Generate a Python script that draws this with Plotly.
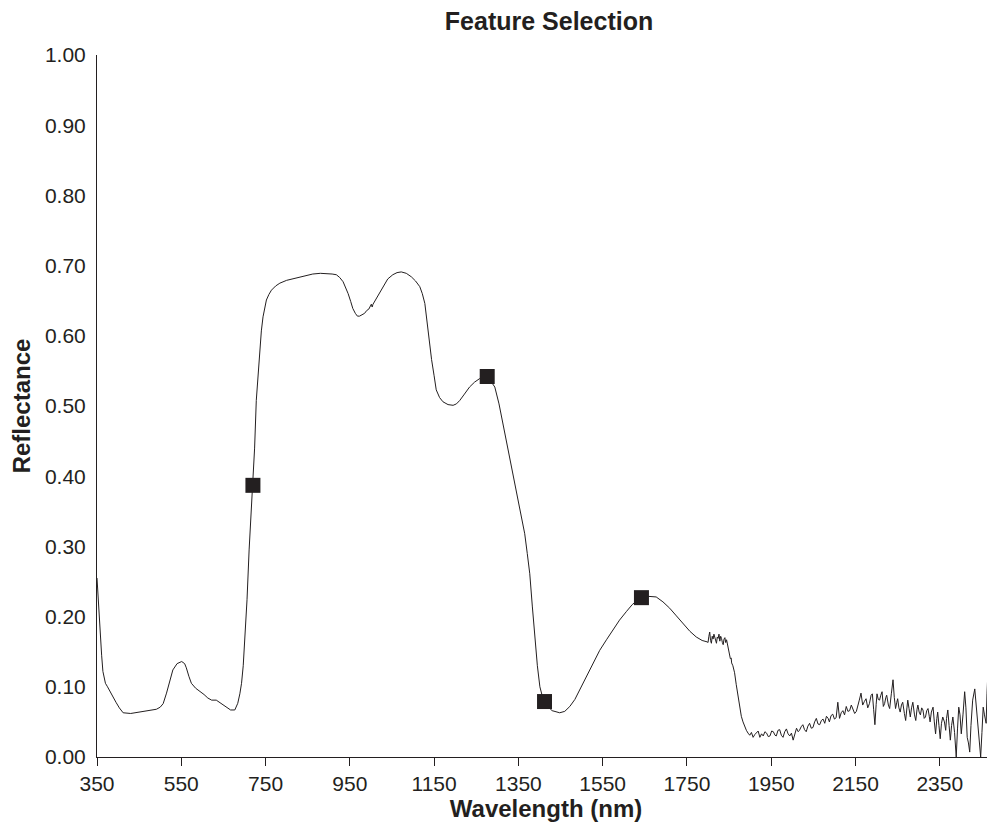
import plotly.graph_objects as go

# ---------------- data ----------------
wl_vis = [350, 352, 354, 356, 358, 361, 364, 367, 370, 375, 380, 388, 395, 403, 412, 430,
          450, 470, 491, 500, 507, 515, 522, 530, 540, 551, 558, 562, 568, 574, 584, 594,
          604, 613, 622, 633, 645, 657, 667, 677, 684, 689, 693, 697, 700, 703, 706, 711, 716]
r_vis = [0.255, 0.232, 0.207, 0.185, 0.168, 0.145, 0.122, 0.112, 0.105, 0.100, 0.094,
         0.086, 0.078, 0.070, 0.063, 0.062, 0.064, 0.066, 0.068, 0.071, 0.076, 0.091, 0.108,
         0.124, 0.133, 0.136, 0.133, 0.127, 0.115, 0.105, 0.098, 0.094, 0.089, 0.084, 0.081,
         0.081, 0.076, 0.070, 0.067, 0.067, 0.0765, 0.090, 0.105, 0.130, 0.160, 0.190, 0.224,
         0.295, 0.350]

wl_nir = [720, 724, 728, 732, 736, 740, 744, 748, 752, 758, 764, 774, 784, 800, 823, 840,
          862, 880, 894, 908, 918, 926, 934, 940, 946, 952, 957, 963, 968, 973, 980, 985,
          990, 995, 1001, 1003, 1005, 1015, 1028, 1040, 1052, 1062, 1072, 1084, 1096, 1106,
          1116, 1122, 1128, 1132, 1136, 1140, 1144, 1150, 1155, 1163, 1171, 1183, 1195,
          1203, 1211, 1222, 1234, 1246, 1258, 1268]
r_nir = [0.387, 0.440, 0.508, 0.545, 0.580, 0.607, 0.627, 0.641, 0.651, 0.659, 0.665, 0.671,
         0.675, 0.679, 0.682, 0.685, 0.688, 0.689, 0.689, 0.688, 0.687, 0.683, 0.677, 0.669,
         0.660, 0.649, 0.639, 0.632, 0.628, 0.628, 0.631, 0.632, 0.636, 0.638, 0.645, 0.641,
         0.645, 0.655, 0.670, 0.681, 0.687, 0.690, 0.691, 0.689, 0.684, 0.678, 0.670, 0.660,
         0.646, 0.625, 0.603, 0.583, 0.566, 0.543, 0.523, 0.512, 0.506, 0.502, 0.501, 0.503,
         0.508, 0.517, 0.527, 0.534, 0.539, 0.541]

wl_swir1 = [1276, 1285, 1294, 1304, 1313, 1321, 1329, 1339, 1349, 1357, 1365, 1371, 1377,
            1383, 1389, 1395, 1401, 1407, 1412, 1420, 1430, 1440, 1448, 1460, 1472, 1484,
            1495, 1507, 1519, 1531, 1543, 1559, 1575, 1590, 1606, 1620, 1632, 1642, 1655,
            1665, 1677, 1693, 1709, 1725, 1741, 1757, 1772, 1786, 1798]
r_swir1 = [0.542, 0.535, 0.527, 0.503, 0.475, 0.452, 0.428, 0.398, 0.366, 0.342, 0.318,
           0.290, 0.261, 0.215, 0.167, 0.130, 0.100, 0.086, 0.079, 0.072, 0.066, 0.064,
           0.063, 0.065, 0.072, 0.082, 0.095, 0.109, 0.124, 0.138, 0.152, 0.167, 0.181,
           0.195, 0.207, 0.217, 0.223, 0.227, 0.229, 0.229, 0.228, 0.221, 0.212, 0.201,
           0.190, 0.179, 0.171, 0.166, 0.164]

wl_swir2 = [1800, 1802, 1804, 1806, 1808, 1810, 1812, 1814, 1816, 1818, 1820, 1822, 1824,
            1826, 1828, 1830, 1832, 1834, 1836, 1838, 1840, 1842, 1844, 1846, 1848, 1851,
            1853, 1855, 1856, 1859, 1863, 1867, 1871, 1875, 1879, 1883, 1887, 1891, 1895, 1899]
r_swir2 = [0.163, 0.172, 0.178, 0.166, 0.162, 0.172, 0.168, 0.175, 0.171, 0.166, 0.162,
           0.171, 0.169, 0.175, 0.165, 0.172, 0.169, 0.163, 0.160, 0.168, 0.170, 0.163,
           0.167, 0.161, 0.155, 0.143, 0.140, 0.141, 0.134, 0.130, 0.120, 0.103, 0.086,
           0.072, 0.058, 0.050, 0.043, 0.038, 0.034, 0.031]

wl_swir3 = [1903, 1907, 1911, 1915, 1919, 1923, 1927, 1931, 1935, 1939, 1943, 1947, 1951,
            1955, 1959, 1962, 1966, 1970, 1974, 1978, 1982, 1986, 1990, 1994, 1998, 2002,
            2006, 2010, 2014, 2017, 2021, 2025, 2029, 2033, 2037, 2041, 2045, 2049, 2053,
            2057, 2061, 2065, 2069, 2073, 2077, 2081, 2085, 2088, 2092, 2096, 2100, 2104,
            2108, 2112, 2116, 2120, 2124, 2128, 2132, 2136, 2140, 2144, 2148, 2152, 2156]
r_swir3 = [0.035, 0.028, 0.032, 0.034, 0.037, 0.028, 0.033, 0.030, 0.036, 0.034, 0.029,
           0.030, 0.037, 0.036, 0.031, 0.030, 0.038, 0.039, 0.031, 0.028, 0.036, 0.040,
           0.033, 0.030, 0.034, 0.024, 0.035, 0.041, 0.036, 0.038, 0.043, 0.046, 0.039,
           0.036, 0.044, 0.048, 0.041, 0.042, 0.050, 0.055, 0.047, 0.046, 0.052, 0.054,
           0.048, 0.058, 0.055, 0.050, 0.059, 0.061, 0.054, 0.056, 0.078, 0.055, 0.063,
           0.066, 0.060, 0.072, 0.065, 0.066, 0.074, 0.069, 0.062, 0.065, 0.077]

wl_swir4 = [2159, 2163, 2167, 2171, 2175, 2179, 2183, 2187, 2190, 2193, 2196, 2199, 2201,
            2204, 2207, 2210, 2213, 2216, 2219, 2222, 2224, 2228, 2231, 2235, 2239, 2242,
            2245, 2248, 2250, 2253, 2256, 2259, 2262, 2266, 2269, 2272, 2274, 2277, 2280,
            2283, 2286, 2290, 2293, 2296, 2298, 2301, 2304, 2307, 2310, 2313, 2316, 2319,
            2322, 2325, 2327, 2330, 2334, 2337, 2340, 2343, 2345, 2348, 2351, 2354, 2357,
            2361, 2364, 2366, 2369, 2372, 2375, 2378, 2381, 2385, 2389, 2392, 2395, 2398,
            2401, 2405, 2409, 2412, 2415, 2418, 2421, 2424, 2428, 2433, 2436, 2439, 2443,
            2447, 2450, 2453, 2456, 2460, 2462, 2465, 2467, 2469, 2471, 2473, 2475, 2477,
            2481, 2485, 2490, 2495, 2500]
r_swir4 = [0.081, 0.091, 0.074, 0.079, 0.083, 0.070, 0.076, 0.088, 0.090, 0.068, 0.046,
           0.075, 0.090, 0.082, 0.081, 0.088, 0.093, 0.072, 0.076, 0.085, 0.088, 0.074,
           0.069, 0.090, 0.110, 0.085, 0.069, 0.078, 0.083, 0.070, 0.064, 0.074, 0.078,
           0.062, 0.052, 0.070, 0.081, 0.069, 0.057, 0.070, 0.078, 0.060, 0.052, 0.068,
           0.074, 0.064, 0.060, 0.070, 0.067, 0.055, 0.057, 0.066, 0.069, 0.058, 0.050,
           0.064, 0.071, 0.050, 0.033, 0.055, 0.064, 0.045, 0.026, 0.048, 0.057, 0.050,
           0.038, 0.055, 0.067, 0.045, 0.024, 0.045, 0.057, 0.035, 0.000, 0.040, 0.071,
           0.060, 0.033, 0.060, 0.093, 0.070, 0.028, 0.020, 0.007, 0.045, 0.081, 0.097,
           0.075, 0.048, 0.030, 0.000, 0.035, 0.071, 0.060, 0.048, 0.090, 0.133, 0.070,
           0.000, 0.050, 0.086, 0.060, 0.071, 0.081, 0.060, 0.075, 0.065, 0.070]

# selected features (square markers)
sel_wl = [720, 1276, 1412, 1642]
sel_r = [0.387, 0.542, 0.079, 0.227]

x_ticks = [350, 550, 750, 950, 1150, 1350, 1550, 1750, 1950, 2150, 2350]
y_ticks = [0.0, 0.1, 0.2, 0.3, 0.4, 0.5, 0.6, 0.7, 0.8, 0.9, 1.0]

# ---------------- figure ----------------
wl = wl_vis + wl_nir + wl_swir1 + wl_swir2 + wl_swir3 + wl_swir4
refl = r_vis + r_nir + r_swir1 + r_swir2 + r_swir3 + r_swir4

INK = "#231f20"
FONT = "Liberation Sans, Arial, sans-serif"

# the page body adds an 8 px offset, so the figure is 8 px smaller than the window
W, H = 987, 814

fig = go.Figure()
fig.add_trace(go.Scatter(x=wl, y=refl, mode="lines",
                         line=dict(color=INK, width=1), showlegend=False))
fig.add_trace(go.Scatter(x=sel_wl, y=sel_r, mode="markers",
                         marker=dict(symbol="square", size=15, color=INK,
                                     line=dict(width=0)),
                         showlegend=False))

fig.update_layout(
    width=W, height=H,
    margin=dict(l=89, r=0, t=47, b=65, autoexpand=False),
    paper_bgcolor="white", plot_bgcolor="white",
    font=dict(family=FONT, color=INK, size=21),
    title=dict(text="<b>Feature Selection</b>", x=541 / W, xref="container",
               xanchor="center", y=1 - 13 / H, yref="container", yanchor="middle",
               font=dict(size=25, family=FONT, color=INK)),
)
fig.update_xaxes(
    range=[350, 2481], tickvals=x_ticks, ticktext=[str(v) for v in x_ticks],
    showline=True, linecolor=INK, linewidth=1, mirror=False,
    ticks="outside", ticklen=8, tickwidth=1, tickcolor=INK,
    showgrid=False, zeroline=False, automargin=False,
    tickfont=dict(size=21, family=FONT, color=INK),
    title=dict(text="<b>Wavelength (nm)</b>", standoff=6,
               font=dict(size=24, family=FONT, color=INK)),
)
fig.update_yaxes(
    range=[0, 1], tickvals=y_ticks, ticktext=[f"{v:.2f}" for v in y_ticks],
    showline=True, linecolor=INK, linewidth=1, automargin=False,
    ticks="", showgrid=False, zeroline=False, ticklabelstandoff=6,
    tickfont=dict(size=21, family=FONT, color=INK),
    title=dict(text="<b>Reflectance</b>", standoff=10,
               font=dict(size=24, family=FONT, color=INK)),
)

fig.write_html("out.html")
